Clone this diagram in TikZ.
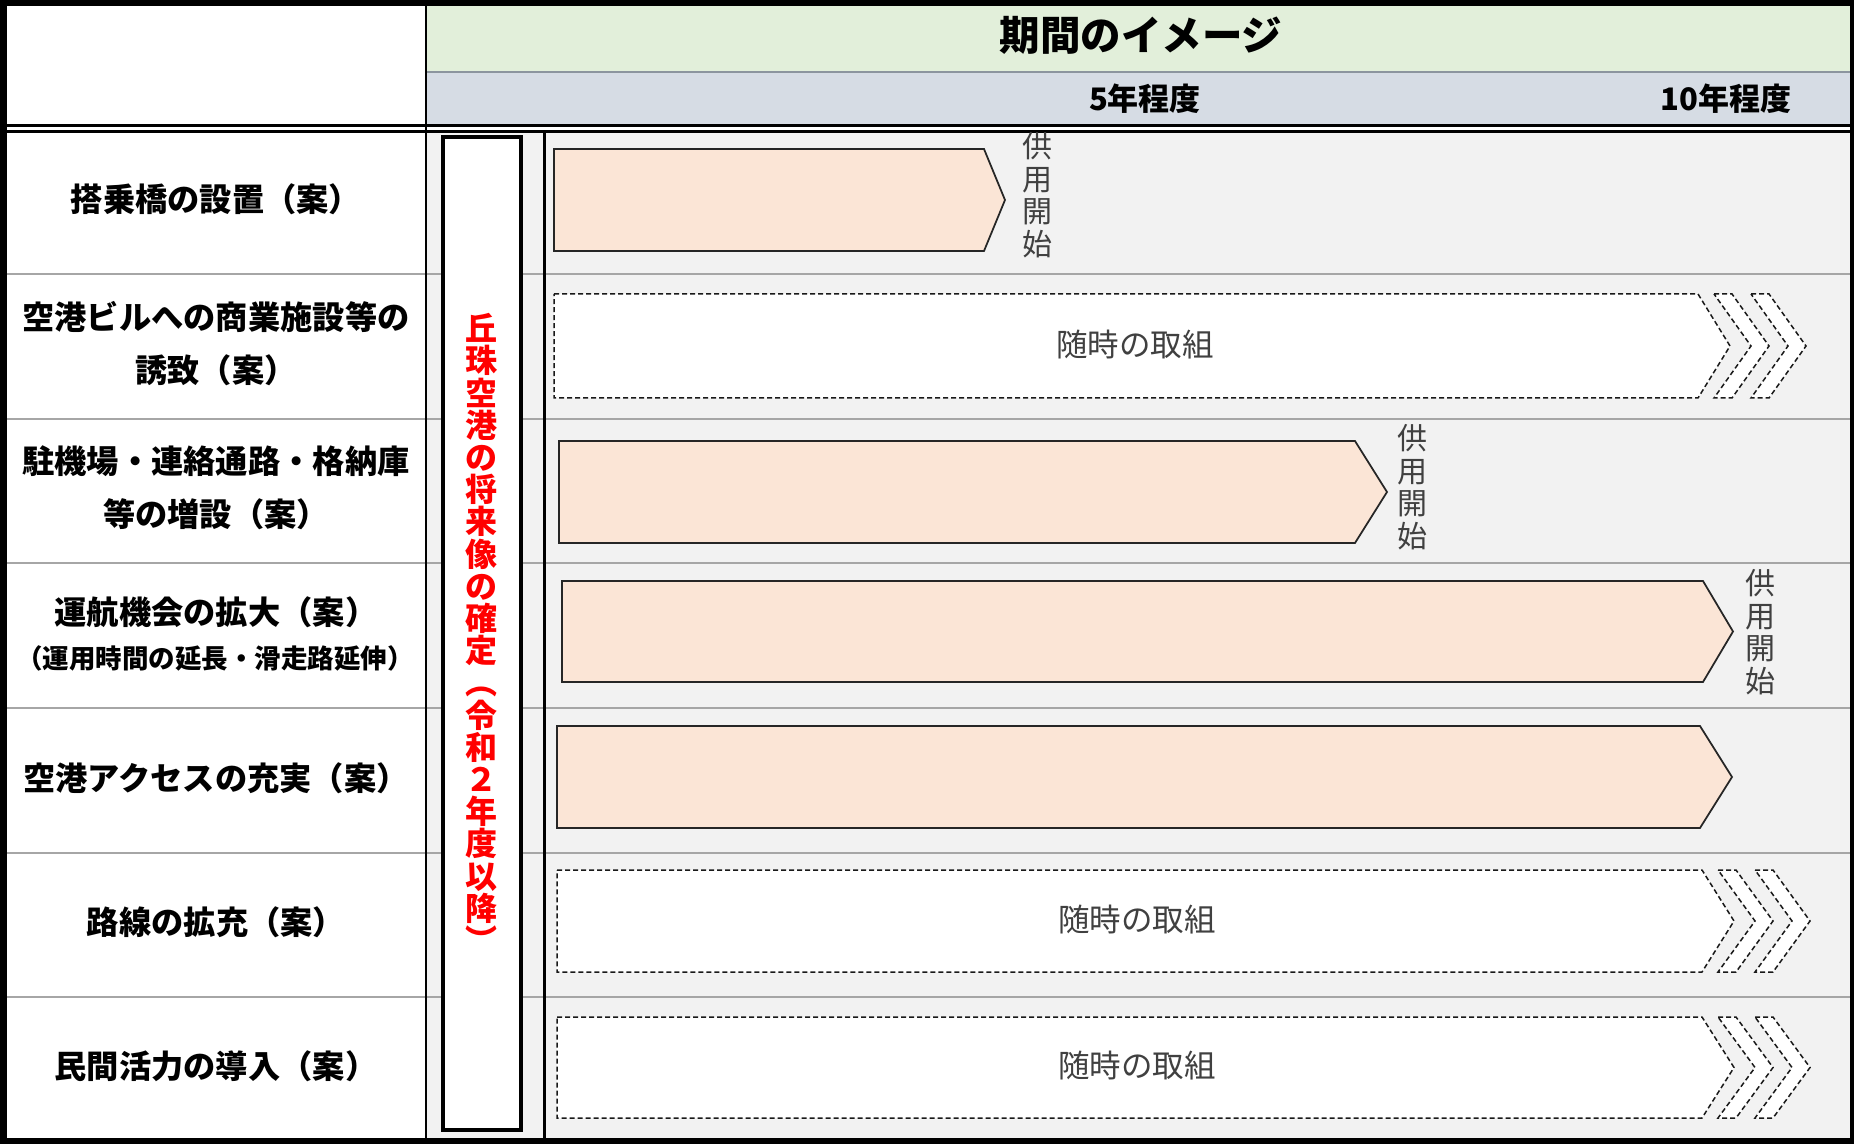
\documentclass[tikz,border=0pt]{standalone}
\usepackage{fontspec}
\setmainfont{Noto Sans CJK JP}
\definecolor{hdrgreen}{HTML}{E2EFDA}
\definecolor{hdrblue}{HTML}{D6DCE4}
\definecolor{cellgray}{HTML}{F2F2F2}
\definecolor{pentfill}{HTML}{FBE5D6}
\definecolor{sepgray}{HTML}{A6A6A6}
\definecolor{txtgray}{HTML}{404040}
\definecolor{hdrline}{HTML}{8C959E}
\newcommand\pentbar[5]{%
  \filldraw[pentshape] (#1,#2) -- (#4,#2) -- (#5,{(#2+#3)/2}) -- (#4,#3) -- (#1,#3) -- cycle;}
\newcommand\chevbar[4]{%
  \filldraw[dashshape] (#1,#2) -- (#4,#2) -- ({#4+32},{(#2+#3)/2}) -- (#4,#3) -- (#1,#3) -- cycle;
  \foreach \a in {16,53} {%
    \filldraw[dashshape] ({#4+\a},#2) -- ({#4+\a+18},#2) -- ({#4+\a+55},{(#2+#3)/2}) -- ({#4+\a+18},#3) -- ({#4+\a},#3) -- ({#4+\a+37},{(#2+#3)/2}) -- cycle;}}
\begin{document}
\begin{tikzpicture}[x=0.4pt,y=-0.4pt,
  lbl/.style={font=\fontsize{12.9}{21.2}\selectfont\bfseries, align=center, inner sep=0pt, text=black},
  lblsmall/.style={font=\fontsize{10.6}{14}\selectfont\bfseries, align=center, inner sep=0pt, text=black},
  hdr/.style={font=\fontsize{16.2}{20}\selectfont\bfseries, inner sep=0pt, text=black},
  subhdr/.style={font=\fontsize{12.4}{16}\selectfont\bfseries, inner sep=0pt, text=black},
  vtext/.style={font=\fontsize{12.8}{12.88}\selectfont\bfseries, align=center, inner sep=0pt, text=red},
  kyo/.style={font=\fontsize{12}{13}\selectfont, align=center, inner sep=0pt, text=txtgray},
  zuiji/.style={font=\fontsize{12.6}{16}\selectfont, inner sep=0pt, text=txtgray},
  pentshape/.style={fill=pentfill, draw=black!85, line width=0.7pt, line join=miter},
  dashshape/.style={fill=white, draw=black!90, line width=0.6pt, dash pattern=on 2pt off 1.2pt},
  sepline/.style={draw=sepgray, line width=0.6pt}]
\useasboundingbox (0,0) rectangle (1854,1144);
% backgrounds
\fill[white] (0,0) rectangle (1854,1144);
\fill[hdrgreen] (426,6) rectangle (1851,72);
\fill[hdrblue] (426,72) rectangle (1851,124);
\fill[cellgray] (426,133) rectangle (1851,1138);
\draw[draw=hdrline, line width=0.5pt] (426,72) -- (1851,72);
% row separators
\foreach \yy in {274,419,563,708,853,997} {\draw[sepline] (6,\yy) -- (1851,\yy);}
% column lines
\draw[line width=1pt] (426,0) -- (426,1144);
\draw[line width=1.1pt] (544.5,133) -- (544.5,1138);
% double line
\draw[line width=1.2pt] (0,125.5) -- (1854,125.5);
\draw[line width=1.2pt] (0,131.5) -- (1854,131.5);
% outer border
\fill[black] (0,0) rectangle (1854,6);
\fill[black] (0,1138) rectangle (1854,1144);
\fill[black] (0,0) rectangle (7,1144);
\fill[black] (1850,0) rectangle (1854,1144);
% red text box
\draw[line width=1.6pt, fill=white] (443,137) rectangle (521,1130);
% bars
\pentbar{554}{149}{251}{984}{1005}
\chevbar{554}{294}{398}{1698}
\pentbar{559}{441}{543}{1355}{1387}
\pentbar{562}{581}{682}{1703}{1733}
\pentbar{557}{726}{828}{1700}{1732}
\chevbar{557}{870}{972}{1702}
\chevbar{557}{1017}{1118}{1702}
% header texts
\node[hdr] (title) at (1141,35) {期間のイメージ};
\node[subhdr] (y5) at (1145,99) {5年程度};
\node[subhdr] (y10) at (1726,99) {10年程度};
% left labels
\node[lbl] (l1) at (216,199) {搭乗橋の設置（案）};
\node[lbl] (l2) at (216,343.5) {空港ビルへの商業施設等の\\誘致（案）};
\node[lbl] (l3) at (216,487.5) {駐機場・連絡通路・格納庫\\等の増設（案）};
\node[lbl] (l4) at (216,612) {運航機会の拡大（案）};
\node[lblsmall] (l4b) at (215,658) {（運用時間の延長・滑走路延伸）};
\node[lbl] (l5) at (216,778) {空港アクセスの充実（案）};
\node[lbl] (l6) at (216,922) {路線の拡充（案）};
\node[lbl] (l7) at (216,1066) {民間活力の導入（案）};
% vertical red text
\node[vtext, anchor=north] (vt) at (481,313) {丘\\珠\\空\\港\\の\\将\\来\\像\\の\\確\\定\\︵\\令\\和\\２\\年\\度\\以\\降\\︶};
% bar texts
\node[kyo] (k1) at (1037,195) {供\\用\\開\\始};
\node[kyo] (k3) at (1412,487) {供\\用\\開\\始};
\node[kyo] (k4) at (1760,632) {供\\用\\開\\始};
\node[zuiji] (z2) at (1135,345) {随時の取組};
\node[zuiji] (z6) at (1137,920) {随時の取組};
\node[zuiji] (z7) at (1137,1066) {随時の取組};
\end{tikzpicture}
\end{document}
